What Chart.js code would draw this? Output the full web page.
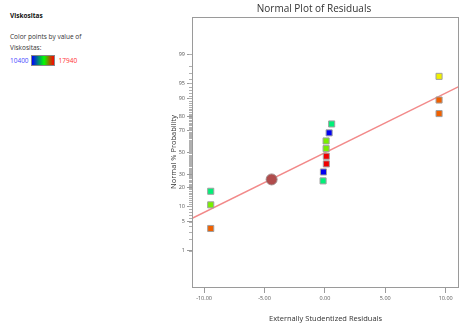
<!DOCTYPE html>
<html>
<head>
<meta charset="utf-8">
<script src="https://cdn.jsdelivr.net/npm/chart.js@4/dist/chart.umd.min.js"></script>
<style>
  body { margin: 0; background: #fff; font-family: "Open Sans", sans-serif; }
  #wrap { position: relative; width: 460px; height: 326px; }
  #side { position: absolute; left: 10px; top: 11px; font-size: 6.5px; color: #333; }
  #side b { display: block; font-size: 6.5px; color: #111; margin-bottom: 12px; }
  #side .row { display: flex; align-items: center; margin-top: 3px; }
  #bar { width: 22px; height: 9px; margin: 0 4px 0 2px; border: 1px solid #888;
         background: linear-gradient(to right, #0000ff, #00ff00 55%, #a06000 80%, #ff0000); }
  canvas { position: absolute; left: 0; top: 0; }
</style>
</head>
<body>
<div id="wrap">
  <div id="side">
    <b>Viskositas</b>
    <div>Color points by value of</div>
    <div style="margin-top:2px">Viskositas:</div>
    <div class="row"><span style="color:#4a4aff">10400</span><span id="bar"></span><span style="color:#ff3030">17940</span></div>
  </div>
  <canvas id="plot" width="460" height="326"></canvas>
</div>
<script>
// residuals
var residuals = [-9.45, -9.45, -9.45, -0.15, -0.12, 0.12, 0.12, 0.1, 0.1, 0.35, 0.56, 9.45, 9.45, 9.45];
var probPct = [3.57, 10.71, 17.86, 25.0, 32.14, 39.29, 46.43, 53.57, 60.71, 67.86, 75.0, 82.14, 89.29, 96.43];
var viskositas = [17186, 15112, 13228, 13228, 10400, 17940, 17940, 15112, 15112, 10400, 13228, 17186, 17186, 16055];
var vMin = 10400, vMax = 17940;

var xTicks = [-10, -5, 0, 5, 10];
var yTickLabels = [1, 5, 10, 20, 30, 50, 70, 80, 90, 95, 99];

// fitted normal line (ends) and its handle
var lineX = [-11.04, 11.08];
var linePct = [5.85, 94.05];
var handleX = [-4.41];
var handlePct = [26.1];

// inverse normal cdf (Acklam)
function probit(p) {
  var a = [-39.69683028665376, 220.9460984245205, -275.9285104469687, 138.357751867269, -30.66479806614716, 2.506628277459239];
  var b = [-54.47609879822406, 161.5858368580409, -155.6989798598866, 66.80131188771972, -13.28068155288572];
  var c = [-0.007784894002430293, -0.3223964580411365, -2.400758277161838, -2.549732539343734, 4.374664141464968, 2.938163982698783];
  var d = [0.007784695709041462, 0.3224671290700398, 2.445134137142996, 3.754408661907416];
  var q, r;
  if (p < 0.02425) {
    q = Math.sqrt(-2 * Math.log(p));
    return (((((c[0]*q+c[1])*q+c[2])*q+c[3])*q+c[4])*q+c[5]) / ((((d[0]*q+d[1])*q+d[2])*q+d[3])*q+1);
  } else if (p > 1 - 0.02425) {
    q = Math.sqrt(-2 * Math.log(1 - p));
    return -(((((c[0]*q+c[1])*q+c[2])*q+c[3])*q+c[4])*q+c[5]) / ((((d[0]*q+d[1])*q+d[2])*q+d[3])*q+1);
  }
  q = p - 0.5; r = q * q;
  return (((((a[0]*r+a[1])*r+a[2])*r+a[3])*r+a[4])*r+a[5])*q / (((((b[0]*r+b[1])*r+b[2])*r+b[3])*r+b[4])*r+1);
}

function colorFor(v) {
  var h = 240 * (1 - (v - vMin) / (vMax - vMin));
  return 'hsl(' + h.toFixed(0) + ',100%,47%)';
}

var pts = residuals.map(function(x, i) { return { x: x, y: probit(probPct[i] / 100) }; });
var linePts = lineX.map(function(x, i) { return { x: x, y: probit(linePct[i] / 100) }; });
var handlePts = handleX.map(function(x, i) { return { x: x, y: probit(handlePct[i] / 100) }; });

// frame + minor ticks on the probability axis
var framePlugin = {
  id: 'frame',
  afterDraw: function(chart) {
    var ctx = chart.ctx, a = chart.chartArea, ys = chart.scales.y;
    ctx.save();
    ctx.strokeStyle = '#9a9a9a';
    ctx.lineWidth = 1;
    ctx.strokeRect(a.left + 0.5, a.top + 0.5, a.right - a.left - 1, a.bottom - a.top);
    ctx.strokeStyle = '#b0b0b0';
    ctx.beginPath();
    for (var p = 1; p <= 99; p++) {
      var py = Math.round(ys.getPixelForValue(probit(p / 100))) + 0.5;
      ctx.moveTo(a.left - 3, py);
      ctx.lineTo(a.left, py);
    }
    ctx.stroke();
    ctx.restore();
  }
};

new Chart(document.getElementById('plot'), {
  type: 'scatter',
  data: {
    datasets: [
      {
        label: 'line',
        type: 'line',
        data: linePts,
        borderColor: '#f28a8a',
        borderWidth: 1.5,
        pointRadius: 0,
        order: 3
      },
      {
        label: 'residuals',
        data: pts,
        pointStyle: 'rect',
        pointRadius: 4.3,
        pointBackgroundColor: viskositas.map(colorFor),
        pointBorderColor: '#a0a0a0',
        pointBorderWidth: 1,
        order: 1
      },
      {
        label: 'handle',
        data: handlePts,
        pointRadius: 5.5,
        pointBackgroundColor: '#b04c4c',
        pointBorderColor: '#a08888',
        pointBorderWidth: 1,
        order: 2
      }
    ]
  },
  options: {
    responsive: false,
    animation: false,
    layout: { autoPadding: false, padding: { left: 169, right: 1, top: 0, bottom: 0 } },
    plugins: {
      legend: { display: false },
      tooltip: { enabled: false },
      title: {
        display: true,
        text: 'Normal Plot of Residuals',
        color: '#333',
        font: { family: 'Open Sans', size: 10, weight: 'normal' },
        padding: { top: 3, bottom: 2 },
        align: 'center'
      }
    },
    scales: {
      x: {
        type: 'linear',
        min: -11.0,
        max: 11.1,
        afterBuildTicks: function(s) { s.ticks = xTicks.map(function(v) { return { value: v }; }); },
        afterFit: function(s) { s.height = 39; },
        ticks: {
          color: '#555',
          font: { family: 'Open Sans', size: 5.5 },
          padding: 2,
          maxRotation: 0,
          callback: function(v) { return v.toFixed(2); }
        },
        grid: { drawOnChartArea: false, tickLength: 6, color: '#9a9a9a' },
        border: { display: false },
        title: {
          display: true,
          text: 'Externally Studentized Residuals',
          color: '#333',
          font: { family: 'Open Sans', size: 7.5 },
          padding: { top: 2, bottom: 3 }
        }
      },
      y: {
        type: 'linear',
        min: -3.19,
        max: 3.21,
        afterBuildTicks: function(s) {
          s.ticks = yTickLabels.map(function(p) { return { value: probit(p / 100), label: String(p) }; });
        },
        afterFit: function(s) { s.width = 23; },
        ticks: {
          color: '#555',
          font: { family: 'Open Sans', size: 5.5 },
          padding: 2,
          callback: function(v, i) { return String(yTickLabels[i]); }
        },
        grid: { drawOnChartArea: false, tickLength: 5, color: '#9a9a9a' },
        border: { display: false },
        title: {
          display: true,
          text: 'Normal % Probability',
          color: '#333',
          font: { family: 'Open Sans', size: 7.5 },
          padding: { top: 0, bottom: 2 }
        }
      }
    }
  },
  plugins: [framePlugin]
});
</script>
</body>
</html>
